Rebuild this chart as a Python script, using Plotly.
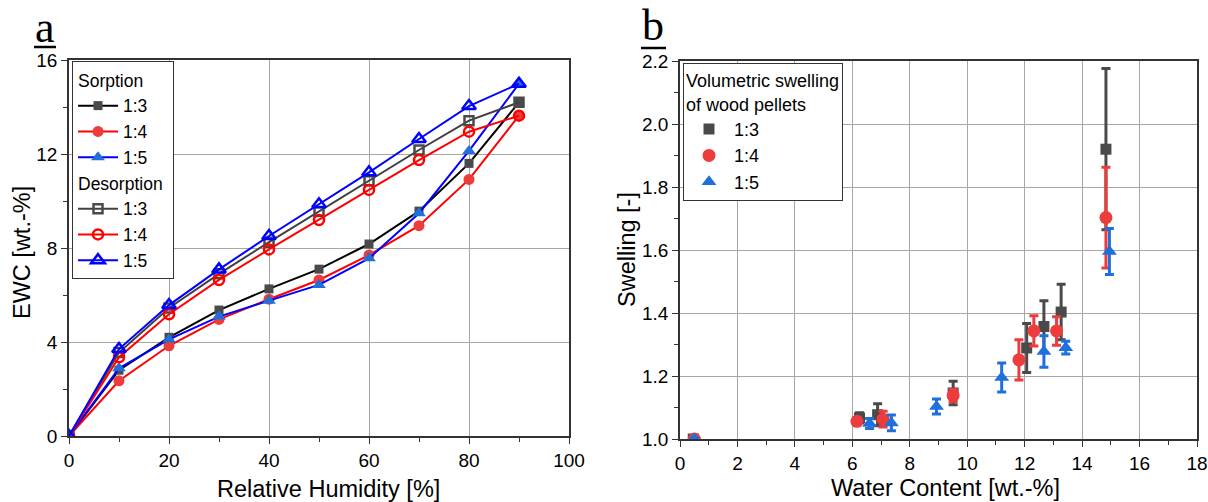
import plotly.graph_objects as go

# ---------------- Panel a data ----------------
rh = [0, 10, 20, 30, 40, 50, 60, 70, 80, 90]
sorp_13 = [0, 2.80, 4.20, 5.36, 6.26, 7.10, 8.17, 9.57, 11.60, 14.20]
sorp_14 = [0, 2.35, 3.84, 4.96, 5.82, 6.64, 7.70, 8.95, 10.92, 13.63]
sorp_15 = [0, 2.88, 4.11, 5.08, 5.76, 6.43, 7.56, 9.48, 12.13, 14.99]
desorp_13 = [0, 3.55, 5.45, 6.90, 8.25, 9.55, 10.86, 12.17, 13.42, 14.20]
desorp_14 = [0, 3.35, 5.18, 6.64, 7.94, 9.19, 10.47, 11.74, 12.95, 13.63]
desorp_15 = [0, 3.70, 5.57, 7.09, 8.51, 9.86, 11.22, 12.64, 14.04, 14.99]

# ---------------- Panel b data ----------------
wc_13 = [0.46, 6.25, 6.88, 9.51, 12.07, 12.67, 13.27, 14.83]
sw_13 = [1.00, 1.067, 1.077, 1.146, 1.289, 1.357, 1.403, 1.920]
err_13 = [0.005, 0.016, 0.035, 0.037, 0.078, 0.082, 0.088, 0.256]

wc_14 = [0.50, 6.16, 7.07, 9.51, 11.80, 12.32, 13.11, 14.83]
sw_14 = [1.00, 1.056, 1.063, 1.138, 1.251, 1.343, 1.343, 1.703]
err_14 = [0.005, 0.012, 0.025, 0.020, 0.064, 0.048, 0.045, 0.160]

wc_15 = [0.50, 6.60, 7.36, 8.93, 11.20, 12.67, 13.43, 14.95]
sw_15 = [1.00, 1.049, 1.051, 1.103, 1.195, 1.278, 1.290, 1.595]
err_15 = [0.005, 0.016, 0.025, 0.024, 0.046, 0.050, 0.020, 0.073]

x_ticks_a = [0, 20, 40, 60, 80, 100]
y_ticks_a = [0, 4, 8, 12, 16]
x_ticks_b = [0, 2, 4, 6, 8, 10, 12, 14, 16, 18]
y_ticks_b = [1.0, 1.2, 1.4, 1.6, 1.8, 2.0, 2.2]

FONT = "Liberation Sans, Arial, sans-serif"
SERIF = "Liberation Serif, Times New Roman, serif"

GREY_M = "#4a4a4a"
RED_M = "#ec3c3c"
BLUE_M = "#1f70dc"

W, H = 1208, 502

fig = go.Figure()

LEG_A_FONT = 17.5
LEG_B_FONT = 18

sorp = [
    ("1:3", sorp_13, "black", GREY_M, "square", 9),
    ("1:4", sorp_14, "#ff0000", RED_M, "circle", 11),
    ("1:5", sorp_15, "#0000ff", BLUE_M, "triangle-up", 12),
]
for name, ys, lc, mc, sym, sz in sorp:
    fig.add_trace(go.Scatter(
        x=rh, y=ys, name=name, mode="lines+markers",
        line=dict(color=lc, width=2),
        marker=dict(symbol=sym, size=sz, color=mc, line=dict(width=0)),
        legendgroup="sorp",
        legendgrouptitle=dict(text="Sorption", font=dict(size=LEG_A_FONT, family=FONT, color="black")),
        xaxis="x", yaxis="y", legend="legend",
    ))

desorp = [
    ("1:3", desorp_13, "#404040", GREY_M, "square-open", 9),
    ("1:4", desorp_14, "#ff0000", "#ff0000", "circle-open", 10),
    ("1:5", desorp_15, "#0000ff", "#0000ff", "triangle-up-open", 12),
]
for name, ys, lc, mc, sym, sz in desorp:
    fig.add_trace(go.Scatter(
        x=rh, y=ys, name=name, mode="lines+markers",
        line=dict(color=lc, width=2),
        marker=dict(symbol=sym, size=sz, color=mc, line=dict(width=2.5, color=mc)),
        legendgroup="desorp",
        legendgrouptitle=dict(text="Desorption", font=dict(size=LEG_A_FONT, family=FONT, color="black")),
        xaxis="x", yaxis="y", legend="legend",
    ))

swell = [
    ("1:3", wc_13, sw_13, err_13, GREY_M, "square", 11),
    ("1:4", wc_14, sw_14, err_14, RED_M, "circle", 13),
    ("1:5", wc_15, sw_15, err_15, BLUE_M, "triangle-up", 13),
]
for name, xs, ys, es, c, sym, sz in swell:
    fig.add_trace(go.Scatter(
        x=xs, y=ys, name=name, mode="markers",
        marker=dict(symbol=sym, size=sz, color=c, line=dict(width=0)),
        error_y=dict(type="data", array=es, visible=True, color=c, thickness=3, width=4.5),
        xaxis="x2", yaxis="y2", legend="legend2",
    ))

axis_common = dict(
    showline=True, linecolor="#333333", linewidth=1.5, mirror=True,
    ticks="outside", ticklen=6, tickwidth=1.2, tickcolor="#333333",
    showgrid=True, gridcolor="#a6a6a6", gridwidth=1.3,
    zeroline=False, automargin=False,
    tickfont=dict(size=19, family=FONT, color="black"),
)
minor_common = dict(ticks="outside", ticklen=4, tickcolor="#333333", showgrid=False)

fig.update_layout(
    template="none",
    width=W, height=H,
    margin=dict(l=0, r=0, t=0, b=0),
    paper_bgcolor="white", plot_bgcolor="white",
    font=dict(family=FONT, size=19, color="black"),
    xaxis=dict(domain=[69/W, 569/W], range=[0, 100], tickvals=x_ticks_a,
               minor=dict(dtick=10, **minor_common), anchor="y", **axis_common),
    yaxis=dict(domain=[1-436/H, 1-60/H], range=[0, 16], tickvals=y_ticks_a,
               minor=dict(dtick=2, **minor_common), anchor="x", **axis_common),
    xaxis2=dict(domain=[680/W, 1197/W], range=[0, 18], tickvals=x_ticks_b,
                minor=dict(dtick=1, **minor_common), anchor="y2", **axis_common),
    yaxis2=dict(domain=[1-439/H, 1-61/H], range=[1.0, 2.2], tickvals=y_ticks_b, tickformat=".1f",
                minor=dict(dtick=0.1, **minor_common), anchor="x2", **axis_common),
    legend=dict(
        x=72/W, y=1-61/H, xanchor="left", yanchor="top",
        bgcolor="white", bordercolor="#333333", borderwidth=1,
        font=dict(size=LEG_A_FONT, family=FONT, color="black"),
        tracegroupgap=0, itemwidth=40, groupclick="toggleitem",
    ),
    legend2=dict(
        x=683/W, y=1-63/H, xanchor="left", yanchor="top",
        bgcolor="white", bordercolor="#333333", borderwidth=1,
        font=dict(size=LEG_B_FONT, family=FONT, color="black"),
        title=dict(text="Volumetric swelling<br>of wood pellets",
                   font=dict(size=LEG_B_FONT, family=FONT, color="black")),
        itemwidth=40,
    ),
    showlegend=True,
)

annots = [
    dict(text="EWC [wt.-%]", x=22/W, y=1-253/H, textangle=-90, font=dict(size=23.5)),
    dict(text="Relative Humidity [%]", x=328/W, y=1-489/H, font=dict(size=23.5)),
    dict(text="Swelling [-]", x=627/W, y=1-250/H, textangle=-90, font=dict(size=23.5)),
    dict(text="Water Content [wt.-%]", x=946/W, y=1-488/H, font=dict(size=23.5)),
    dict(text="a", x=45/W, y=1-28/H, font=dict(size=44, family=SERIF)),
    dict(text="b", x=653/W, y=1-26/H, font=dict(size=44, family=SERIF)),
]
for a in annots:
    fig.add_annotation(xref="paper", yref="paper", showarrow=False,
                       xanchor="center", yanchor="middle", **a)

fig.add_shape(type="line", xref="paper", yref="paper",
              x0=34/W, x1=56/W, y0=1-47/H, y1=1-47/H,
              line=dict(color="black", width=2.5))
fig.add_shape(type="line", xref="paper", yref="paper",
              x0=641/W, x1=666/W, y0=1-48/H, y1=1-48/H,
              line=dict(color="black", width=2.5))

fig.write_html("out.html", config={"displayModeBar": False},
               post_script="document.body.style.margin='0px';document.body.style.overflow='hidden';")
